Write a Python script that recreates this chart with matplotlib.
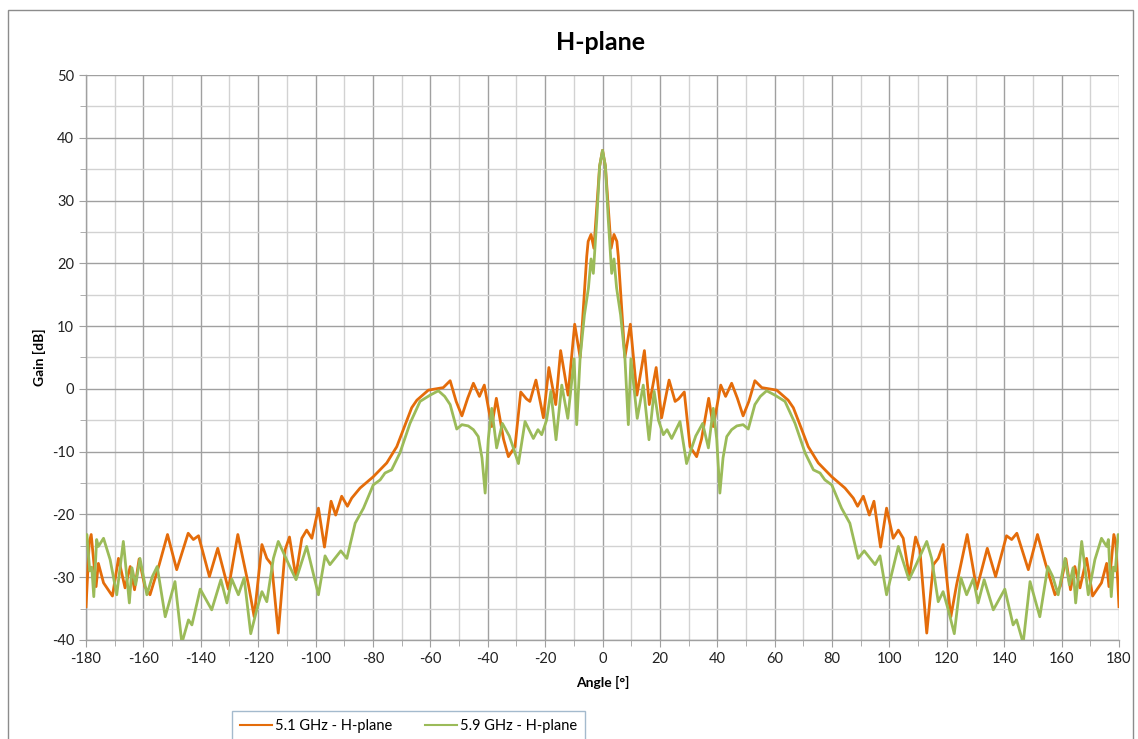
import matplotlib
matplotlib.use("Agg")
import matplotlib.pyplot as plt
from matplotlib.patches import Rectangle
from matplotlib.ticker import MultipleLocator

# 5.1 GHz - H-plane (angle in deg, gain in dB)
angle_51 = [-180, -178.9, -178.2, -176.5, -175.7, -173.9, -170.8, -168.7, -166.4, -164.6,
            -163.1, -161.5, -159.5, -157.7, -154.5, -151.6, -148.4, -144.4, -142.6, -140.8,
            -137, -134.1, -130.4, -127.1, -123.4, -121.4, -118.7, -117, -115.3, -113,
            -110.6, -109.1, -106.9, -104.8, -103.1, -101.3, -99, -96.9, -94.6, -93,
            -90.9, -88.9, -87.4, -84.5, -79.9, -75.2, -71.7, -68.2, -66.5, -64.7,
            -60.7, -58, -55.5, -53.1, -51, -49, -47, -45, -42.9, -41.2,
            -38.6, -37, -34.5, -32.8, -30.5, -28.5, -26.5, -25.3, -23.2, -20.6,
            -18.7, -16.3, -14.6, -12, -11, -9.7, -7.8, -6.5, -5.5, -5,
            -4, -3, -2, -1, 0,
            1, 2, 3, 4, 5, 5.5, 6.5, 7.8, 9.7, 11,
            12, 14.6, 16.3, 18.7, 20.6, 23.2, 25.3, 26.5, 28.5, 30.5,
            32.8, 34.5, 37, 38.6, 41.2, 42.9, 45, 47, 49, 51,
            53.1, 55.5, 58, 60.7, 64.7, 66.5, 68.2, 71.7, 75.2, 79.9,
            84.5, 87.4, 88.9, 90.9, 93, 94.6, 96.9, 99, 101.3, 103.1,
            104.8, 106.9, 109.1, 110.6, 113, 115.3, 117, 118.7, 121.4, 123.4,
            127.1, 130.4, 134.1, 137, 140.8, 142.6, 144.4, 148.4, 151.6, 154.5,
            157.7, 159.5, 161.5, 163.1, 164.6, 166.4, 168.7, 170.8, 173.9, 175.7,
            176.5, 178.2, 178.9, 180]
gain_51 = [-34.7, -24.5, -23.2, -31.5, -27.8, -30.9, -33.0, -27.0, -31.7, -28.3,
           -32.0, -27.1, -31.5, -32.8, -28.0, -23.2, -28.8, -23.0, -24.0, -23.4,
           -29.9, -25.4, -31.9, -23.2, -31.2, -36.3, -24.8, -27.0, -28.0, -38.9,
           -25.6, -23.6, -29.9, -23.8, -22.5, -23.8, -19.0, -25.2, -17.9, -20.1,
           -17.1, -18.7, -17.4, -15.8, -14.0, -11.8, -9.2, -5.0, -3.0, -1.8,
           -0.2, 0.0, 0.2, 1.3, -2.0, -4.3, -1.5, 0.9, -1.2, 0.6,
           -6.0, -1.5, -8.0, -10.8, -9.2, -0.5, -1.6, -2.0, 1.4, -4.6,
           3.4, -2.5, 6.1, -1.0, 4.0, 10.3, 5.0, 14.0, 21.1, 23.5,
           24.6, 22.4, 29.0, 35.5, 38.0,
           35.5, 29.0, 22.4, 24.6, 23.5, 21.1, 14.0, 5.0, 10.3, 4.0,
           -1.0, 6.1, -2.5, 3.4, -4.6, 1.4, -2.0, -1.6, -0.5, -9.2,
           -10.8, -8.0, -1.5, -6.0, 0.6, -1.2, 0.9, -1.5, -4.3, -2.0,
           1.3, 0.2, 0.0, -0.2, -1.8, -3.0, -5.0, -9.2, -11.8, -14.0,
           -15.8, -17.4, -18.7, -17.1, -20.1, -17.9, -25.2, -19.0, -23.8, -22.5,
           -23.8, -29.9, -23.6, -25.6, -38.9, -28.0, -27.0, -24.8, -36.3, -31.2,
           -23.2, -31.9, -25.4, -29.9, -23.4, -24.0, -23.0, -28.8, -23.2, -28.0,
           -32.8, -31.5, -27.1, -32.0, -28.3, -31.7, -27.0, -33.0, -30.9, -27.8,
           -31.5, -23.2, -24.5, -34.7]

# 5.9 GHz - H-plane
angle_59 = [-180, -179.7, -178.7, -178, -177.3, -176.3, -175.7, -173.9, -171.6, -169.3,
            -167, -164.9, -164, -162.7, -161.2, -158.8, -156.9, -155.2, -152.4, -149,
            -146.6, -144.3, -143.1, -140.2, -136.2, -133, -130.9, -129.2, -126.9, -124.9,
            -122.6, -120.5, -118.7, -117, -114.7, -113, -109, -106.8, -103.1, -99,
            -96.7, -95, -91.2, -89.1, -86.2, -83.3, -79.9, -77.5, -75.8, -73.5,
            -70.6, -67.1, -63.6, -60.1, -57.2, -55, -53.1, -50.8, -49, -46.8,
            -45, -43.3, -42, -40.9, -39.8, -38.6, -36.9, -34.9, -32.5, -31,
            -29.3, -27, -24.1, -22.5, -21.2, -19.5, -18, -16.2, -14.2, -12.1,
            -9.9, -9, -7.8, -6.3, -4.9, -4, -3.2, -2, -1, 0,
            1, 2, 3.2, 4, 4.9, 6.3, 7.8, 9, 9.9, 12.1,
            14.2, 16.2, 18, 19.5, 21.2, 22.5, 24.1, 27, 29.3, 31,
            32.5, 34.9, 36.9, 38.6, 39.8, 40.9, 42, 43.3, 45, 46.8,
            49, 50.8, 53.1, 55, 57.2, 60.1, 63.6, 67.1, 70.6, 73.5,
            75.8, 77.5, 79.9, 83.3, 86.2, 89.1, 91.2, 95, 96.7, 99,
            103.1, 106.8, 109, 113, 114.7, 117, 118.7, 120.5, 122.6, 124.9,
            126.9, 129.2, 130.9, 133, 136.2, 140.2, 143.1, 144.3, 146.6, 149,
            152.4, 155.2, 156.9, 158.8, 161.2, 162.7, 164, 164.9, 167, 169.3,
            171.6, 173.9, 175.7, 176.3, 177.3, 178, 178.7, 179.7, 180]
gain_59 = [-23.5, -23.2, -29.0, -28.4, -33.1, -24.0, -25.1, -23.8, -27.2, -32.8,
           -24.3, -34.1, -28.5, -31.2, -27.0, -32.8, -29.9, -28.3, -36.3, -30.7,
           -40.5, -36.8, -37.6, -31.9, -35.2, -30.4, -34.1, -30.3, -32.8, -30.1,
           -39.0, -35.2, -32.3, -33.9, -27.0, -24.3, -28.3, -30.4, -25.1, -32.8,
           -26.6, -28.0, -25.8, -27.0, -21.4, -19.0, -15.3, -14.5, -13.4, -12.9,
           -10.2, -5.5, -2.0, -1.0, -0.3, -1.2, -2.5, -6.4, -5.7, -5.9,
           -6.5, -7.6, -11.0, -16.6, -8.0, -3.1, -9.4, -5.5, -7.5, -9.5,
           -11.9, -5.2, -7.9, -6.5, -7.3, -5.0, -0.4, -8.1, 0.6, -4.7,
           4.8, -5.7, 5.0, 11.8, 16.1, 20.7, 18.4, 27.0, 35.5, 38.0,
           35.5, 27.0, 18.4, 20.7, 16.1, 11.8, 5.0, -5.7, 4.8, -4.7,
           0.6, -8.1, -0.4, -5.0, -7.3, -6.5, -7.9, -5.2, -11.9, -9.5,
           -7.5, -5.5, -9.4, -3.1, -8.0, -16.6, -11.0, -7.6, -6.5, -5.9,
           -5.7, -6.4, -2.5, -1.2, -0.3, -1.0, -2.0, -5.5, -10.2, -12.9,
           -13.4, -14.5, -15.3, -19.0, -21.4, -27.0, -25.8, -28.0, -26.6, -32.8,
           -25.1, -30.4, -28.3, -24.3, -27.0, -33.9, -32.3, -35.2, -39.0, -30.1,
           -32.8, -30.3, -34.1, -30.4, -35.2, -31.9, -37.6, -36.8, -40.5, -30.7,
           -36.3, -28.3, -29.9, -32.8, -27.0, -31.2, -28.5, -34.1, -24.3, -32.8,
           -27.2, -23.8, -25.1, -24.0, -33.1, -28.4, -29.0, -23.2, -23.5]

series_labels = ["5.1 GHz - H-plane", "5.9 GHz - H-plane"]
series_colors = ["#E46C0A", "#9BBB59"]

plt.rcParams["font.family"] = ["Lato", "DejaVu Sans"]
plt.rcParams["axes.unicode_minus"] = False

fig = plt.figure(figsize=(11.38, 7.39), dpi=100)
ax = fig.add_axes([0.0756, 0.134, 0.9077, 0.7645])

ax.plot(angle_51, gain_51, color=series_colors[0], lw=2.0, label=series_labels[0],
        solid_joinstyle="round", zorder=3)
ax.plot(angle_59, gain_59, color=series_colors[1], lw=2.0, label=series_labels[1],
        solid_joinstyle="round", zorder=3)

ax.set_xlim(-180, 180)
ax.set_ylim(-40, 50)
ax.xaxis.set_major_locator(MultipleLocator(20))
ax.xaxis.set_minor_locator(MultipleLocator(10))
ax.yaxis.set_major_locator(MultipleLocator(10))
ax.yaxis.set_minor_locator(MultipleLocator(5))

# grid: darker major lines, lighter minor lines
ax.grid(which="major", color="#A0A0A0", lw=1.0)
ax.grid(which="minor", color="#D2D2D2", lw=1.0)
ax.set_axisbelow(True)

for s in ["top", "right"]:
    ax.spines[s].set_visible(False)
for s in ["left", "bottom"]:
    ax.spines[s].set_color("#A0A0A0")
    ax.spines[s].set_linewidth(1.0)

ax.tick_params(which="both", direction="out", color="#A0A0A0", labelsize=10.5,
               labelcolor="#222222")
ax.tick_params(which="major", length=5)
ax.tick_params(which="minor", length=4)
ax.tick_params(axis="x", pad=4)

ax.set_xlabel("Angle [°]", fontsize=10, fontweight="bold", labelpad=7)
ax.set_ylabel("Gain [dB]", fontsize=10, fontweight="bold", labelpad=4)
fig.text(0.528, 0.943, "H-plane", ha="center", va="center", fontsize=18, fontweight="bold")

leg = fig.legend(loc="upper left", bbox_to_anchor=(225 / 1138, 1 - 704 / 739), ncol=2,
                 fontsize=10.5, frameon=True, fancybox=False, edgecolor="#8EA9C1",
                 handlelength=2.2, handletextpad=0.2, columnspacing=2.2,
                 borderpad=0.55)
leg.get_frame().set_linewidth(1.0)
for line in leg.get_lines():
    line.set_linewidth(1.5)

# chart outer border
fig.patches.append(Rectangle((8 / 1138, -0.05), 1125 / 1138, 1 - 10 / 739 + 0.05,
                             transform=fig.transFigure, fill=False,
                             edgecolor="#8C8C8C", lw=1.0))

fig.savefig("out.png", dpi=100)
